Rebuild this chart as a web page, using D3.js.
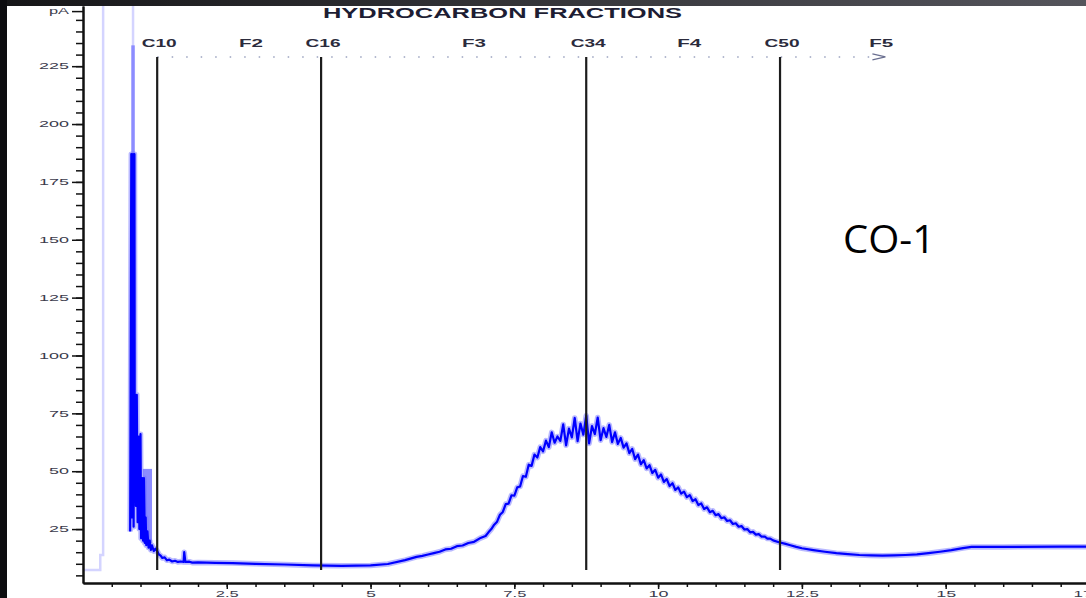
<!DOCTYPE html>
<meta charset="utf-8">
<title>CO-1 hydrocarbon fractions</title>
<style>
    body {
        margin: 0;
        background: #fff;
        overflow: hidden;
    }

    svg {
        display: block;
    }

    .tick text {
        font-family: "Liberation Sans", Arial, sans-serif;
        fill: #3b3b4c;
    }
</style>
<body>
<script src="https://cdnjs.cloudflare.com/ajax/libs/d3/7.8.5/d3.min.js"></script>
<script>
    // [retention time (min), signal (pA)]
    var blankTrace = [[0, 7.3], [0.3, 7.3], [0.3, 13.8], [0.35, 13.8], [0.35, 260], [0.87, 260], [0.87, 30]];

    var spikeTrace = [[0.82, 24], [0.84, 187], [0.85, 30], [0.87, 187], [0.88, 26], [0.895, 187], [0.90, 40],
        [0.91, 83], [0.92, 35], [0.935, 83], [0.95, 28], [0.97, 65], [0.98, 25], [1.0, 66], [1.01, 21],
        [1.03, 47], [1.045, 20], [1.06, 47], [1.075, 19], [1.09, 30], [1.10, 18], [1.12, 24], [1.14, 17],
        [1.16, 20], [1.18, 16], [1.2, 18], [1.23, 15.5], [1.26, 16.5], [1.29, 15.5], [1.32, 14], [1.35, 13.5],
        [1.38, 12.5], [1.42, 12.8], [1.46, 11.5], [1.5, 11.8], [1.55, 11], [1.6, 11.3], [1.65, 10.8],
        [1.7, 11], [1.75, 10.8], [1.76, 15], [1.78, 10.8], [1.85, 10.9], [1.9, 10.5]];

    var baseTrace = [[2.0, 10.6], [2.3, 10.4], [2.6, 10.3], [3.0, 10.0], [3.5, 9.7], [4.0, 9.3], [4.5, 9.1],
        [5.0, 9.3], [5.3, 9.9], [5.6, 11.6], [5.8, 13.0], [5.9, 13.4], [6.0, 14.0], [6.1, 14.6], [6.2, 15.2],
        [6.3, 16.2], [6.4, 16.5], [6.5, 17.6], [6.6, 17.9], [6.7, 19.0], [6.8, 19.5], [6.9, 21.0]];

    var humpTrace = [[7.00, 22.0], [7.05, 23.6], [7.10, 25.0], [7.15, 26.9], [7.20, 28.2], [7.25, 31.2],
        [7.30, 32.4], [7.35, 35.8], [7.40, 36.0], [7.45, 39.6], [7.50, 39.4], [7.55, 43.0], [7.60, 43.4],
        [7.65, 47.9], [7.70, 47.6], [7.75, 52.8], [7.80, 52.3], [7.85, 57.2], [7.90, 55.9], [7.95, 60.4],
        [8.00, 58.6], [8.05, 63.2], [8.10, 60.4], [8.15, 66.8], [8.20, 62.3], [8.25, 65.0], [8.30, 63.1],
        [8.35, 70.2], [8.40, 61.2], [8.45, 68.4], [8.50, 64.6], [8.55, 73.0], [8.60, 63.0], [8.65, 70.6],
        [8.70, 65.8], [8.75, 74.0], [8.80, 62.0], [8.85, 69.5], [8.90, 66.0], [8.95, 73.2], [9.00, 63.4],
        [9.05, 68.6], [9.10, 64.8], [9.15, 70.0], [9.20, 62.6], [9.25, 66.8], [9.30, 61.8], [9.35, 64.4],
        [9.40, 60.2], [9.45, 62.0], [9.50, 57.8], [9.55, 59.6], [9.60, 55.2], [9.65, 57.2], [9.70, 53.0],
        [9.75, 54.8], [9.80, 51.2], [9.85, 52.6], [9.90, 49.2], [9.95, 50.6], [10.00, 47.2], [10.05, 48.6],
        [10.10, 45.4], [10.15, 46.6], [10.20, 43.6], [10.25, 44.8], [10.30, 41.9], [10.35, 43.0], [10.40, 40.3],
        [10.45, 41.2], [10.50, 38.8], [10.55, 39.7], [10.60, 37.1], [10.65, 37.9], [10.70, 35.4], [10.75, 36.1],
        [10.80, 33.7], [10.85, 34.4], [10.90, 32.3], [10.95, 32.9], [11.00, 31.0], [11.05, 31.5], [11.10, 29.7],
        [11.15, 30.1], [11.20, 28.5], [11.25, 28.8], [11.30, 27.2], [11.35, 27.5], [11.40, 26.0], [11.45, 26.3],
        [11.50, 24.8], [11.55, 25.0], [11.60, 23.6], [11.65, 23.8], [11.70, 22.6], [11.75, 22.8], [11.80, 21.7],
        [11.85, 21.8], [11.90, 20.9], [11.95, 20.9], [12.00, 20.1], [12.10, 19.3], [12.20, 18.7],
        [12.30, 18.0], [12.40, 17.3]];

    var tailTrace = [[12.5, 16.7], [12.7, 15.9], [12.9, 15.2], [13.1, 14.6], [13.3, 14.2], [13.5, 13.8],
        [13.7, 13.6], [13.9, 13.5], [14.1, 13.6], [14.3, 13.8], [14.5, 14.1], [14.7, 14.6], [14.9, 15.2],
        [15.1, 15.9], [15.3, 16.8], [15.45, 17.3], [16.0, 17.3], [17.0, 17.4], [17.5, 17.4]];

    // light blue blocks where the trace is too dense to resolve: [t0, t1, low, high]
    var haloBlocks = [[0.84, 0.90, 187, 234], [1.04, 1.20, 19, 51]];

    var boundaries = [["C10", 1.29], ["C16", 4.14], ["C34", 8.75], ["C50", 12.12]];
    var fractions = [["F2", 2.92], ["F3", 6.8], ["F4", 10.54], ["F5", 13.88]];
    var markerTop = 229, markerBottom = 7.3, fractionEnd = 13.9;

    var xTicks = [2.5, 5, 7.5, 10, 12.5, 15, 17.5];
    var yTicks = [25, 50, 75, 100, 125, 150, 175, 200, 225];
    var unitTick = 248.8;

    var W = 1086, H = 598;

    var x = d3.scaleLinear().domain([0, 17.44]).range([83, 1086]);
    var y = d3.scaleLinear().domain([1.7, 251]).range([583, 6]);

    var svg = d3.select("body").append("svg")
        .attr("width", W)
        .attr("height", H);

    // slide frame
    var grad = svg.append("defs").append("linearGradient").attr("id", "topbar");
    grad.append("stop").attr("offset", "0").attr("stop-color", "#161618");
    grad.append("stop").attr("offset", "1").attr("stop-color", "#55555c");
    svg.append("rect").attr("width", W).attr("height", H).attr("fill", "#fff");
    svg.append("rect").attr("width", W).attr("height", 6).attr("fill", "url(#topbar)");
    svg.append("rect").attr("width", 7).attr("height", H).attr("fill", "#0d0d10");

    svg.select("defs").append("clipPath").attr("id", "plot")
        .append("rect")
        .attr("x", x(0)).attr("y", y.range()[1])
        .attr("width", x.range()[1] - x(0)).attr("height", y.range()[0] - y.range()[1]);

    var plot = svg.append("g").attr("clip-path", "url(#plot)");

    var line = d3.line()
        .x(function (d) { return x(d[0]); })
        .y(function (d) { return y(d[1]); });

    plot.append("path")
        .attr("d", line(blankTrace))
        .attr("fill", "none")
        .attr("stroke", "#d4d4ff")
        .attr("stroke-width", 2.5);

    plot.selectAll("rect.halo")
        .data(haloBlocks)
        .enter()
        .append("rect")
        .attr("class", "halo")
        .attr("x", function (d) { return x(d[0]); })
        .attr("width", function (d) { return x(d[1]) - x(d[0]); })
        .attr("y", function (d) { return y(d[3]); })
        .attr("height", function (d) { return y(d[2]) - y(d[3]); })
        .attr("fill", "#8c8cff");

    var trace = spikeTrace.concat(baseTrace, humpTrace, tailTrace);

    plot.append("path")
        .attr("d", line(trace))
        .attr("fill", "none")
        .attr("stroke", "#7474ff")
        .attr("stroke-opacity", 0.5)
        .attr("stroke-width", 5.5)
        .attr("stroke-linejoin", "round");

    plot.append("path")
        .attr("d", line(trace))
        .attr("fill", "none")
        .attr("stroke", "#0000ff")
        .attr("stroke-width", 2.2)
        .attr("stroke-linejoin", "round");

    // fraction markers
    svg.append("line")
        .attr("x1", x(boundaries[0][1])).attr("x2", x(fractionEnd))
        .attr("y1", y(markerTop)).attr("y2", y(markerTop))
        .attr("stroke", "#9aa3c0")
        .attr("stroke-width", 1.5)
        .attr("stroke-dasharray", "1.5,13");

    svg.append("path")
        .attr("d", "M" + (x(fractionEnd) - 10) + "," + (y(markerTop) - 3) +
            "L" + (x(fractionEnd) + 3) + "," + y(markerTop) +
            "L" + (x(fractionEnd) - 10) + "," + (y(markerTop) + 3))
        .attr("fill", "none")
        .attr("stroke", "#6a6f90")
        .attr("stroke-width", 1.2);

    svg.selectAll("line.cut")
        .data(boundaries)
        .enter()
        .append("line")
        .attr("class", "cut")
        .attr("x1", function (d) { return x(d[1]); })
        .attr("x2", function (d) { return x(d[1]); })
        .attr("y1", y(markerTop))
        .attr("y2", y(markerBottom))
        .attr("stroke", "#1c1c1c")
        .attr("stroke-width", 2.2);

    var labelFont = "'Liberation Sans', Arial, sans-serif";

    svg.selectAll("text.cut")
        .data(boundaries.concat(fractions))
        .enter()
        .append("text")
        .attr("x", function (d) { return x(d[1]) + (d[0][0] === "C" ? 2 : 0); })
        .attr("y", 47)
        .attr("text-anchor", "middle")
        .attr("font-family", labelFont)
        .attr("font-weight", "bold")
        .attr("font-size", "10.5px")
        .attr("fill", "#2b2b3c")
        .attr("textLength", function (d) { return d[0][0] === "C" ? 35 : 24; })
        .attr("lengthAdjust", "spacingAndGlyphs")
        .text(function (d) { return d[0]; });

    svg.append("text")
        .attr("x", 502.5)
        .attr("y", 18)
        .attr("text-anchor", "middle")
        .attr("font-family", labelFont)
        .attr("font-weight", "bold")
        .attr("font-size", "14px")
        .attr("fill", "#1d1d33")
        .attr("textLength", 359)
        .attr("lengthAdjust", "spacingAndGlyphs")
        .text("HYDROCARBON FRACTIONS");

    // axes
    function stretch(sel, perDigit) {
        sel.selectAll(".tick text")
            .attr("textLength", function () {
                var s = this.textContent;
                return s.replace(/\./g, "").length * perDigit + (s.indexOf(".") >= 0 ? 3 : 0);
            })
            .attr("lengthAdjust", "spacingAndGlyphs");
    }

    var yMinor = svg.append("g")
        .attr("transform", "translate(" + x(0) + ",0)")
        .call(d3.axisLeft(y).tickValues(d3.range(5, 250, 5)).tickSize(7).tickSizeOuter(0).tickFormat(""));

    var yMajor = svg.append("g")
        .attr("transform", "translate(" + x(0) + ",0)")
        .call(d3.axisLeft(y).tickValues(yTicks.concat([unitTick])).tickSize(11).tickSizeOuter(0).tickPadding(3)
            .tickFormat(function (d) { return d === unitTick ? "pA" : String(d); }));
    yMajor.selectAll(".tick text").attr("font-size", "8.5px");
    stretch(yMajor, 10);

    var xMinor = svg.append("g")
        .attr("transform", "translate(0," + y.range()[0] + ")")
        .call(d3.axisBottom(x).tickValues(d3.range(0.5, 17.5, 0.5)).tickSize(4).tickSizeOuter(0).tickFormat(""));

    var xMajor = svg.append("g")
        .attr("transform", "translate(0," + y.range()[0] + ")")
        .call(d3.axisBottom(x).tickValues(xTicks).tickSize(6).tickSizeOuter(0).tickPadding(1)
            .tickFormat(function (d) { return String(d); }));
    xMajor.selectAll(".tick text").attr("font-size", "9.8px");
    stretch(xMajor, 10);

    svg.selectAll(".domain").attr("stroke", "#111").attr("stroke-width", 2);
    svg.selectAll(".tick line").attr("stroke", "#111").attr("stroke-width", 1.5);

    svg.append("text")
        .attr("x", 843)
        .attr("y", 253)
        .attr("font-family", "'Open Sans', 'Noto Sans', sans-serif")
        .attr("font-size", "39px")
        .attr("fill", "#000")
        .attr("textLength", 92)
        .attr("lengthAdjust", "spacingAndGlyphs")
        .text("CO-1");
</script>
